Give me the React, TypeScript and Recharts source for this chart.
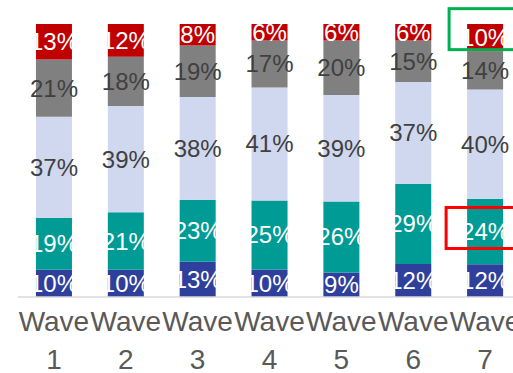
import { Bar, BarChart, LabelList, XAxis, YAxis } from 'recharts'

const waves = ['Wave 1', 'Wave 2', 'Wave 3', 'Wave 4', 'Wave 5', 'Wave 6', 'Wave 7']
const veryLow = [10, 10, 13, 10, 9, 12, 12]
const low = [19, 21, 23, 25, 26, 29, 24]
const middle = [37, 39, 38, 41, 39, 37, 40]
const high = [21, 18, 19, 17, 20, 15, 14]
const veryHigh = [13, 12, 8, 6, 6, 6, 10]

const series = [
  { key: 'veryLow', values: veryLow, color: '#2F3F9C', text: '#FFFFFF' },
  { key: 'low', values: low, color: '#009B95', text: '#FFFFFF' },
  { key: 'middle', values: middle, color: '#D0D8F0', text: '#404040' },
  { key: 'high', values: high, color: '#808080', text: '#404040' },
  { key: 'veryHigh', values: veryHigh, color: '#C00000', text: '#FFFFFF' },
]

// boxes drawn round a few labels
const highlights = [
  { key: 'veryHigh', wave: 'Wave 7', color: '#00B050', dx: -36, dy: -29, w: 72, h: 41 },
  { key: 'low', wave: 'Wave 7', color: '#FF0000', dx: -39, dy: -24, w: 78, h: 41 },
]

const data = waves.map((wave, i) => {
  const row: Record<string, number | string> = { wave }
  series.forEach((s) => {
    row[s.key] = s.values[i]
  })
  return row
})

const font = '"Liberation Sans", Arial, sans-serif'

function makeLabel(key: string, fill: string) {
  return (props: any) => {
    const { x, y, width, height, value, index } = props
    const cx = Number(x) + Number(width) / 2
    const cy = Number(y) + Number(height) / 2
    const hl = highlights.find((h) => h.key === key && h.wave === waves[index])
    return (
      <g>
        <text
          x={cx}
          y={cy}
          textAnchor="middle"
          dominantBaseline="central"
          fill={fill}
          fontSize={24}
          fontFamily={font}
        >
          {value}%
        </text>
        {hl && (
          <rect
            x={cx + hl.dx}
            y={cy + hl.dy}
            width={hl.w}
            height={hl.h}
            fill="none"
            stroke={hl.color}
            strokeWidth={3}
          />
        )}
      </g>
    )
  }
}

function WaveTick({ x, y, payload }: any) {
  const [word, num] = String(payload.value).split(' ')
  return (
    <text x={x} y={y} textAnchor="middle" fill="#595959" fontSize={28} fontFamily={font}>
      <tspan x={x} dy={26}>
        {word}
      </tspan>
      <tspan x={x} dy={38}>
        {num}
      </tspan>
    </text>
  )
}

export default function App() {
  return (
    <div
      style={{
        position: 'absolute',
        left: 0,
        top: 0,
        width: 513,
        height: 373,
        overflow: 'hidden',
        background: '#fff',
      }}
    >
      <BarChart
        width={521}
        height={373}
        data={data}
        stackOffset="expand"
        barCategoryGap="25%"
        margin={{ top: 24, right: 0, left: 18, bottom: 0 }}
      >
        <XAxis
          dataKey="wave"
          height={76}
          interval={0}
          tickLine={false}
          axisLine={{ stroke: '#D9D9D9', strokeWidth: 1.5 }}
          tick={<WaveTick />}
        />
        <YAxis hide domain={[0, 1]} />
        {series.map((s) => (
          <Bar key={s.key} dataKey={s.key} stackId="a" fill={s.color} isAnimationActive={false}>
            <LabelList dataKey={s.key} content={makeLabel(s.key, s.text)} />
          </Bar>
        ))}
      </BarChart>
    </div>
  )
}
